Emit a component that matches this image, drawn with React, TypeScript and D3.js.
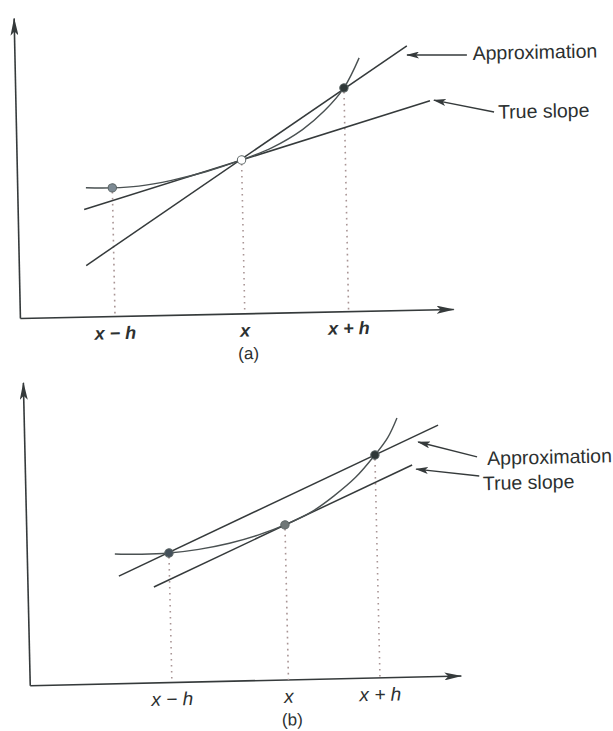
import React, { useEffect, useRef } from 'react';
import * as d3 from 'd3';

type Pt = [number, number];

// shared tick labels
const tickLabels = ['x − h', 'x', 'x + h'];

// panel (a): forward difference
const ticksA = [2.15, 5.1, 7.46];
const curveA: Pt[] = [
  [1.55, 4.31], [2.15, 4.29], [2.75, 4.33], [3.5, 4.5], [4.3, 4.77], [5.1, 5.13],
  [5.8, 5.52], [6.5, 6.1], [7.0, 6.7], [7.46, 7.46], [7.82, 8.45]
];
const sampleA: Pt[] = [[2.15, 4.29], [5.1, 5.13], [7.46, 7.46]];
const approxA: Pt[] = [[1.52, 1.72], [8.91, 8.82]];
const trueSlopeA: Pt[] = [[1.5, 3.59], [9.41, 6.97]];
// [tail, tip, label anchor]
const approxNoteA: Pt[] = [[10.27, 8.47], [8.91, 8.51], [10.4, 8.47]];
const slopeNoteA: Pt[] = [[10.86, 6.55], [9.5, 6.99], [10.95, 6.5]];

// panel (b): central difference
const ticksB = [3.22, 5.87, 7.95];
const curveB: Pt[] = [
  [1.99, 4.33], [2.6, 4.3], [3.22, 4.32], [3.9, 4.42], [4.6, 4.6], [5.25, 4.85],
  [5.87, 5.17], [6.5, 5.6], [7.0, 6.1], [7.5, 6.7], [7.95, 7.43], [8.25, 8.0], [8.47, 8.65]
];
const sampleB: Pt[] = [[3.22, 4.32], [5.87, 5.17], [7.95, 7.43]];
const approxB: Pt[] = [[2.07, 3.59], [9.4, 8.38]];
const trueSlopeB: Pt[] = [[2.86, 3.2], [8.79, 7.07]];
const approxNoteB: Pt[] = [[10.27, 7.29], [8.94, 7.83], [10.5, 7.18]];
const slopeNoteB: Pt[] = [[10.31, 6.65], [8.88, 6.93], [10.39, 6.35]];

const INK = '#353a3b';
const FONT = '"Liberation Sans", Arial, sans-serif';

interface PanelSpec {
  id: string;
  caption: string;
  xRange: [number, number];
  yRange: [number, number];
  xEnd: number;
  yEnd: number;
  rot: [number, number, number];
  ticks: number[];
  curve: Pt[];
  samples: Pt[];
  approx: Pt[];
  trueSlope: Pt[];
  approxNote: Pt[];
  slopeNote: Pt[];
  sampleFill: string[];
  boldTicks: boolean;
}

const panels: PanelSpec[] = [
  {
    id: 'a', caption: '(a)', xRange: [18, 458], yRange: [314, 14], xEnd: 9.85, yEnd: 10,
    rot: [-1.2, 235, 200], ticks: ticksA, curve: curveA, samples: sampleA,
    approx: approxA, trueSlope: trueSlopeA, approxNote: approxNoteA, slopeNote: slopeNoteA,
    sampleFill: ['#7d8a94', '#ffffff', '#2f3838'], boldTicks: true
  },
  {
    id: 'b', caption: '(b)', xRange: [27, 467], yRange: [681, 381], xEnd: 9.8, yEnd: 10.1,
    rot: [-1.3, 240, 540], ticks: ticksB, curve: curveB, samples: sampleB,
    approx: approxB, trueSlope: trueSlopeB, approxNote: approxNoteB, slopeNote: slopeNoteB,
    sampleFill: ['#44505a', '#6f7777', '#2f3838'], boldTicks: false
  }
];

const App: React.FC = () => {
  const svgRef = useRef<SVGSVGElement>(null);

  useEffect(() => {
    if (!svgRef.current) return;
    const root = d3.select(svgRef.current);
    root.selectAll('*').remove();

    const defs = root.append('defs');
    defs.append('marker')
      .attr('id', 'axis-head')
      .attr('viewBox', '0 0 18 8')
      .attr('refX', 17).attr('refY', 4)
      .attr('markerWidth', 18).attr('markerHeight', 8)
      .attr('markerUnits', 'userSpaceOnUse')
      .attr('orient', 'auto')
      .append('path')
      .attr('d', 'M0,0 L18,4 L0,8 L4,4 Z')
      .attr('fill', INK);
    defs.append('marker')
      .attr('id', 'note-head')
      .attr('viewBox', '0 0 13 7')
      .attr('refX', 12).attr('refY', 3.5)
      .attr('markerWidth', 13).attr('markerHeight', 7)
      .attr('markerUnits', 'userSpaceOnUse')
      .attr('orient', 'auto')
      .append('path')
      .attr('d', 'M0,0 L13,3.5 L0,7 L3,3.5 Z')
      .attr('fill', INK);

    panels.forEach(p => {
      const x = d3.scaleLinear().domain([0, 10]).range(p.xRange);
      const y = d3.scaleLinear().domain([0, 10]).range(p.yRange);
      const line = d3.line<Pt>().x(d => x(d[0])).y(d => y(d[1]));

      const g = root.append('g')
        .attr('transform', `rotate(${p.rot[0]},${p.rot[1]},${p.rot[2]})`);

      // axes
      g.append('line')
        .attr('x1', x(0)).attr('y1', y(0))
        .attr('x2', x(p.xEnd)).attr('y2', y(0))
        .attr('stroke', INK).attr('stroke-width', 1.6)
        .attr('marker-end', 'url(#axis-head)');
      g.append('line')
        .attr('x1', x(0)).attr('y1', y(0))
        .attr('x2', x(0)).attr('y2', y(p.yEnd))
        .attr('stroke', INK).attr('stroke-width', 1.6)
        .attr('marker-end', 'url(#axis-head)');

      // dotted drop lines
      g.selectAll('line.drop')
        .data(p.samples)
        .enter().append('line')
        .attr('class', 'drop')
        .attr('x1', d => x(d[0])).attr('y1', d => y(d[1]) + 4)
        .attr('x2', d => x(d[0])).attr('y2', y(0))
        .attr('stroke', '#a99595')
        .attr('stroke-width', 1.6)
        .attr('stroke-dasharray', '1.6,4.4');

      // true slope and approximation lines
      [p.trueSlope, p.approx].forEach(seg => {
        g.append('path')
          .attr('d', line(seg))
          .attr('fill', 'none')
          .attr('stroke', INK)
          .attr('stroke-width', 1.5);
      });

      // the function
      g.append('path')
        .attr('d', line.curve(d3.curveCatmullRom.alpha(0.5))(p.curve))
        .attr('fill', 'none')
        .attr('stroke', '#4a5152')
        .attr('stroke-width', 1.4);

      // sample points
      g.selectAll('circle.sample')
        .data(p.samples)
        .enter().append('circle')
        .attr('class', 'sample')
        .attr('cx', d => x(d[0]))
        .attr('cy', d => y(d[1]))
        .attr('r', 4.2)
        .attr('fill', (_, i) => p.sampleFill[i])
        .attr('stroke', '#5a6464')
        .attr('stroke-width', 1);

      // tick labels
      g.selectAll('text.tick')
        .data(p.ticks)
        .enter().append('text')
        .attr('class', 'tick')
        .attr('x', d => x(d))
        .attr('y', y(0) + 18)
        .attr('text-anchor', 'middle')
        .attr('dominant-baseline', 'middle')
        .attr('font-family', FONT)
        .attr('font-style', 'italic')
        .attr('font-weight', p.boldTicks ? 'bold' : 'normal')
        .attr('font-size', p.boldTicks ? 18 : 19)
        .attr('fill', '#2c3030')
        .text((_, i) => tickLabels[i]);

      g.append('text')
        .attr('x', x(p.ticks[1]) + 3)
        .attr('y', y(0) + 41)
        .attr('text-anchor', 'middle')
        .attr('dominant-baseline', 'middle')
        .attr('font-family', FONT)
        .attr('font-size', 17)
        .attr('fill', '#2c3030')
        .text(p.caption);

      // annotations
      [[p.approxNote, 'Approximation'], [p.slopeNote, 'True slope']].forEach(([note, label]) => {
        const pts = note as Pt[];
        g.append('line')
          .attr('x1', x(pts[0][0])).attr('y1', y(pts[0][1]))
          .attr('x2', x(pts[1][0])).attr('y2', y(pts[1][1]))
          .attr('stroke', INK).attr('stroke-width', 1.4)
          .attr('marker-end', 'url(#note-head)');
        g.append('text')
          .attr('x', x(pts[2][0]))
          .attr('y', y(pts[2][1]))
          .attr('dominant-baseline', 'middle')
          .attr('font-family', FONT)
          .attr('font-size', 19.5)
          .attr('fill', '#2c3030')
          .text(label as string);
      });
    });
  }, []);

  return (
    <svg
      ref={svgRef}
      width={613}
      height={731}
      style={{ position: 'absolute', left: 0, top: 0, background: '#ffffff' }}
    />
  );
};

export default App;
